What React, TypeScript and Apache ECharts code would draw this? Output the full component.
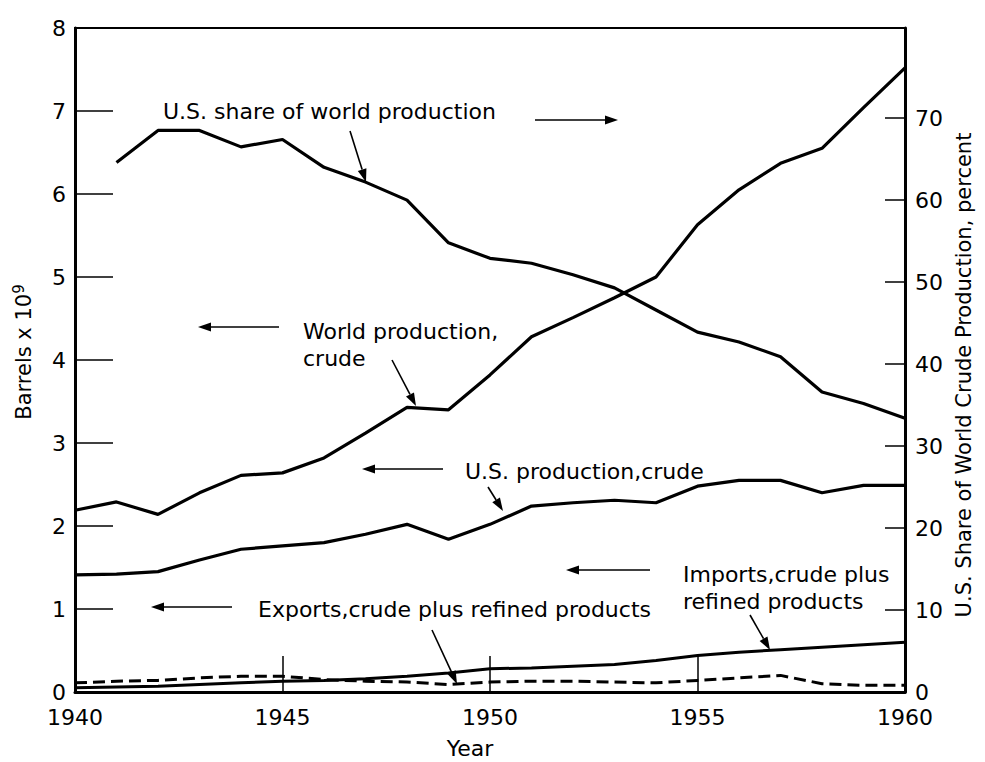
import React, { useEffect, useRef } from "react";
import * as echarts from "echarts";

// ---- Data ----
const years = [1940, 1941, 1942, 1943, 1944, 1945, 1946, 1947, 1948, 1949, 1950, 1951, 1952, 1953, 1954, 1955, 1956, 1957, 1958, 1959, 1960];
// World production, crude (barrels x 10^9)
const worldCrude = [2.19, 2.29, 2.14, 2.40, 2.61, 2.64, 2.82, 3.12, 3.43, 3.40, 3.82, 4.28, 4.51, 4.75, 5.00, 5.63, 6.05, 6.37, 6.55, 7.04, 7.52];
// U.S. production, crude (barrels x 10^9)
const usCrude = [1.41, 1.42, 1.45, 1.59, 1.72, 1.76, 1.80, 1.90, 2.02, 1.84, 2.02, 2.24, 2.28, 2.31, 2.28, 2.48, 2.55, 2.55, 2.40, 2.49, 2.49];
// Imports, crude plus refined products (barrels x 10^9)
const imports = [0.05, 0.06, 0.07, 0.09, 0.11, 0.13, 0.14, 0.16, 0.19, 0.23, 0.28, 0.29, 0.31, 0.33, 0.38, 0.44, 0.48, 0.51, 0.54, 0.57, 0.60];
// Exports, crude plus refined products (barrels x 10^9)
const exportsData = [0.11, 0.13, 0.14, 0.17, 0.19, 0.19, 0.15, 0.13, 0.12, 0.09, 0.12, 0.13, 0.13, 0.12, 0.11, 0.14, 0.17, 0.20, 0.10, 0.08, 0.08];
// U.S. share of world production (percent), 1941-1960
const shareYears = [1941, 1942, 1943, 1944, 1945, 1946, 1947, 1948, 1949, 1950, 1951, 1952, 1953, 1954, 1955, 1956, 1957, 1958, 1959, 1960];
const usShare = [64.6, 68.5, 68.5, 66.5, 67.4, 64.0, 62.2, 60.0, 54.8, 52.9, 52.3, 50.9, 49.3, 46.6, 43.9, 42.7, 40.9, 36.6, 35.2, 33.4];

// Tick labels
const xTickLabels = [1940, 1945, 1950, 1955, 1960];
const xTickMarks = [1945, 1950, 1955];
const leftTickLabels = [0, 1, 2, 3, 4, 5, 6, 7, 8];
const leftTickMarks = [1, 2, 3, 4, 5, 6, 7];
const rightTickLabels = [0, 10, 20, 30, 40, 50, 60, 70];
const rightTickMarks = [10, 20, 30, 40, 50, 60, 70];

const FONT = "DejaVu Sans";

function pairs(xs: number[], ys: number[]) {
  return xs.map((x, i) => [x, ys[i]]);
}

function arrow(x1: number, y1: number, x2: number, y2: number, head = 13, half = 4.5) {
  const a = Math.atan2(y2 - y1, x2 - x1);
  const bx = x2 - head * Math.cos(a);
  const by = y2 - head * Math.sin(a);
  const px = -Math.sin(a) * half;
  const py = Math.cos(a) * half;
  return [
    {
      type: "line",
      shape: { x1, y1, x2: bx, y2: by },
      style: { stroke: "#000", lineWidth: 1.6 },
      z: 10,
    },
    {
      type: "polygon",
      shape: { points: [[x2, y2], [bx + px, by + py], [bx - px, by - py]] },
      style: { fill: "#000" },
      z: 10,
    },
  ];
}

function label(text: string, x: number, y: number, size = 22) {
  return {
    type: "text",
    x,
    y,
    z: 10,
    style: {
      text,
      fill: "#000",
      fontSize: size,
      fontFamily: FONT,
      align: "left",
      verticalAlign: "middle",
      textAlign: "left",
      textVerticalAlign: "middle",
    },
  };
}

export default function App() {
  const ref = useRef<HTMLDivElement>(null);

  useEffect(() => {
    if (!ref.current) return;
    const chart = echarts.init(ref.current, null, { renderer: "svg" });

    const lineStyleBase = { color: "#000", width: 3.2 };

    const option: any = {
      animation: false,
      backgroundColor: "#fff",
      grid: {
        left: 75,
        right: 80,
        top: 28,
        bottom: 70,
        show: true,
        borderColor: "#000",
        borderWidth: 2,
        backgroundColor: "transparent",
      },
      xAxis: {
        type: "value",
        min: 1940,
        max: 1960,
        interval: 5,
        axisLine: { show: true, lineStyle: { color: "#000", width: 3 } },
        axisTick: {
          show: true,
          inside: true,
          length: 36,
          lineStyle: { color: "#000", width: 1.5 },
          customValues: xTickMarks,
        },
        axisLabel: {
          color: "#000",
          fontSize: 22,
          fontFamily: FONT,
          margin: 14,
          customValues: xTickLabels,
          formatter: (v: number) => String(v),
        },
        splitLine: { show: false },
      },
      yAxis: [
        {
          type: "value",
          position: "left",
          min: 0,
          max: 8,
          interval: 1,
          axisLine: { show: true, lineStyle: { color: "#000", width: 3 } },
          axisTick: {
            show: true,
            inside: true,
            length: 38,
            lineStyle: { color: "#000", width: 1.5 },
            customValues: leftTickMarks,
          },
          axisLabel: {
            color: "#000",
            fontSize: 22,
            fontFamily: FONT,
            margin: 9,
            padding: [0, 0, 8, 0],
            customValues: leftTickLabels,
          },
          splitLine: { show: false },
        },
        {
          type: "value",
          position: "right",
          min: 0,
          max: 81,
          interval: 10,
          axisLine: { show: true, lineStyle: { color: "#000", width: 3 } },
          axisTick: {
            show: true,
            inside: true,
            length: 20,
            lineStyle: { color: "#000", width: 1.5 },
            customValues: rightTickMarks,
          },
          axisLabel: {
            color: "#000",
            fontSize: 22,
            fontFamily: FONT,
            margin: 10,
            customValues: rightTickLabels,
          },
          splitLine: { show: false },
        },
      ],
      series: [
        {
          name: "World production, crude",
          type: "line",
          yAxisIndex: 0,
          symbol: "none",
          lineStyle: lineStyleBase,
          data: pairs(years, worldCrude),
          z: 5,
        },
        {
          name: "U.S. production, crude",
          type: "line",
          yAxisIndex: 0,
          symbol: "none",
          lineStyle: lineStyleBase,
          data: pairs(years, usCrude),
          z: 5,
        },
        {
          name: "Imports, crude plus refined products",
          type: "line",
          yAxisIndex: 0,
          symbol: "none",
          lineStyle: { color: "#000", width: 3 },
          data: pairs(years, imports),
          z: 5,
        },
        {
          name: "Exports, crude plus refined products",
          type: "line",
          yAxisIndex: 0,
          symbol: "none",
          lineStyle: { color: "#000", width: 3, type: [12, 6] },
          data: pairs(years, exportsData),
          z: 5,
        },
        {
          name: "U.S. share of world production",
          type: "line",
          yAxisIndex: 1,
          symbol: "none",
          lineStyle: lineStyleBase,
          data: pairs(shareYears, usShare),
          z: 5,
        },
      ],
      graphic: [
        // annotation texts
        label("U.S. share of world production", 163, 111),
        label("World production,", 303, 331),
        label("crude", 303, 358),
        label("U.S. production,crude", 465, 471),
        label("Exports,crude plus refined products", 258, 609),
        label("Imports,crude plus", 683, 574),
        label("refined products", 683, 601),
        // direction arrows
        ...arrow(535, 120, 618, 120),
        ...arrow(279, 327, 198, 327),
        ...arrow(443, 469, 362, 469),
        ...arrow(650, 570, 566, 570),
        ...arrow(232, 607, 151, 607),
        // pointer arrows
        ...arrow(350, 131, 366, 182),
        ...arrow(392, 360, 416, 406),
        ...arrow(488, 487, 503, 511),
        ...arrow(432, 630, 457, 684),
        ...arrow(750, 615, 770, 650),
        // axis titles
        {
          type: "text",
          x: 24,
          y: 352,
          rotation: Math.PI / 2,
          z: 10,
          style: {
            text: "Barrels x 10{sup|9}",
            fill: "#000",
            fontSize: 21,
            fontFamily: FONT,
            align: "center",
            verticalAlign: "middle",
            textAlign: "center",
            textVerticalAlign: "middle",
            rich: {
              sup: { fontSize: 15, fontFamily: FONT, fill: "#000", padding: [0, 0, 10, 0] },
            },
          },
        },
        {
          type: "text",
          x: 964,
          y: 375,
          rotation: Math.PI / 2,
          z: 10,
          style: {
            text: "U.S. Share of World Crude Production, percent",
            fill: "#000",
            fontSize: 21,
            fontFamily: FONT,
            align: "center",
            verticalAlign: "middle",
            textAlign: "center",
            textVerticalAlign: "middle",
          },
        },
        {
          type: "text",
          x: 470,
          y: 748,
          z: 10,
          style: {
            text: "Year",
            fill: "#000",
            fontSize: 22,
            fontFamily: FONT,
            align: "center",
            verticalAlign: "middle",
            textAlign: "center",
            textVerticalAlign: "middle",
          },
        },
      ],
    };

    chart.setOption(option);
    return () => {
      chart.dispose();
    };
  }, []);

  return (
    <div
      ref={ref}
      style={{ position: "fixed", left: 0, top: 0, width: 985, height: 762, background: "#fff" }}
    />
  );
}
